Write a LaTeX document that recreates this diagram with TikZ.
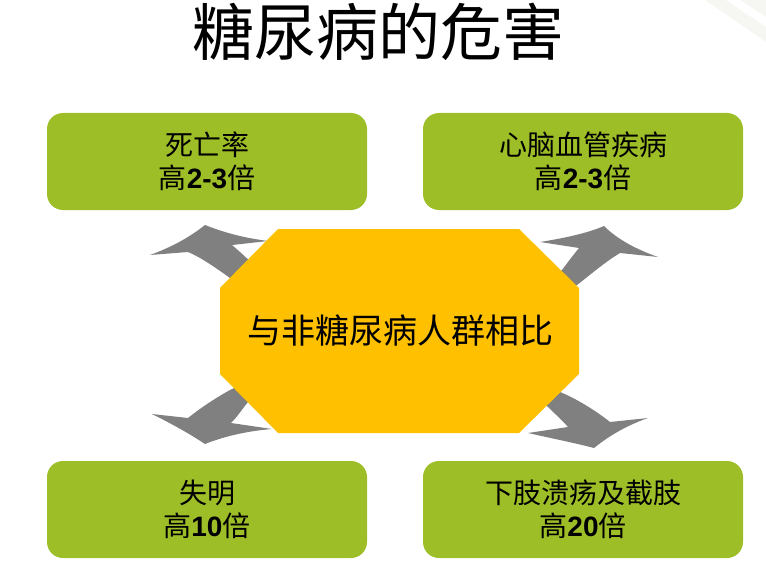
\documentclass[tikz,border=0pt]{standalone}
\usepackage{fontspec}
\setmainfont{Noto Sans CJK SC}
\newfontfamily\lat{Liberation Sans}
\definecolor{boxgreen}{RGB}{158,190,40}
\definecolor{octgold}{RGB}{255,192,0}
\definecolor{arrowgray}{RGB}{128,128,128}
\definecolor{curlgray}{RGB}{246,247,243}
\tikzset{
  greenbox/.style={fill=boxgreen, rounded corners=16pt, minimum width=320pt, minimum height=97pt,
    inner sep=0pt, align=center, font=\fontsize{28}{33}\selectfont},
  arrowshape/.style={fill=arrowgray},
}
\begin{document}
\begin{tikzpicture}[x=1pt,y=-1pt]
\useasboundingbox (0,0) rectangle (766,567);
% faint page curl at top right
\fill[curlgray] (705,0) -- (766,0) -- (766,42) -- cycle;
\fill[white] (726,0) -- (740,0) -- (766,17) -- (766,27) -- cycle;

% title
\node[font=\fontsize{62}{72}\selectfont, inner sep=0pt] (title) at (378,32) {糖尿病的危害};

% boxes
\node[greenbox] (tl) at (207,161.5) {死亡率\\高{\lat\bfseries 2-3}倍};
\node[greenbox] (tr) at (583,161.5) {心脑血管疾病\\高{\lat\bfseries 2-3}倍};
\node[greenbox] (bl) at (207,509.5) {失明\\高{\lat\bfseries 10}倍};
\node[greenbox] (br) at (583,509.5) {下肢溃疡及截肢\\高{\lat\bfseries 20}倍};

% arrows (drawn below the octagon)
\fill[arrowshape] (150,255) .. controls (172,247) and (190,237) .. (205,225)
  .. controls (225,233) and (245,238) .. (268,241) -- (232,245)
  .. controls (240,252) and (252,262) .. (262,275) -- (275,295) -- (255,300) -- (230,278)
  .. controls (212,265) and (198,256) .. (188,252) -- cycle;
\fill[arrowshape] (540,242) .. controls (565,238) and (588,233) .. (604,226)
  .. controls (618,240) and (638,250) .. (658,257) -- (620,253)
  .. controls (605,262) and (590,275) .. (577,285) -- (560,300) -- (545,285) -- (562,270)
  .. controls (568,262) and (574,254) .. (579,248) -- cycle;
\fill[arrowshape] (152,414) .. controls (172,424) and (190,434) .. (205,444)
  .. controls (225,436) and (248,431) .. (272,429) -- (231,423)
  .. controls (238,416) and (243,408) .. (248,402) -- (265,395) -- (250,380) -- (230,390)
  .. controls (212,400) and (198,410) .. (188,418) -- cycle;
\fill[arrowshape] (528,433) .. controls (550,438) and (575,443) .. (594,448)
  .. controls (610,435) and (628,425) .. (648,418) -- (610,422)
  .. controls (595,410) and (575,398) .. (560,392) -- (548,380) -- (535,398) -- (548,407)
  .. controls (555,414) and (562,420) .. (568,427) -- cycle;

% octagon
\fill[octgold] (278,229) -- (519,229) -- (579,288) -- (579,374) -- (519,433)
  -- (278,433) -- (220,374) -- (220,288) -- cycle;
\node[font=\fontsize{34}{40}\selectfont, inner sep=0pt] (center) at (400,331) {与非糖尿病人群相比};
\end{tikzpicture}
\end{document}
